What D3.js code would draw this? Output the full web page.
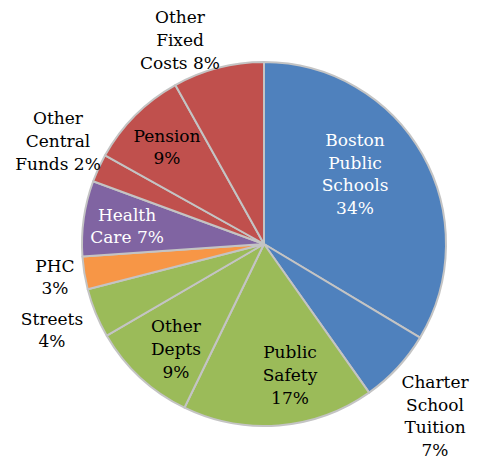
<!DOCTYPE html>
<html>
<head>
<meta charset="utf-8">
<script src="https://cdn.jsdelivr.net/npm/d3@7"></script>
<style>
  body { margin: 0; background: #fff; }
  text { font-family: "DejaVu Serif", serif; font-size: 17px; }
</style>
</head>
<body>
<div id="chart"></div>
<script>
// budget shares, clockwise from 12 o'clock
const categories = ["Boston Public Schools", "Charter School Tuition", "Public Safety", "Other Depts",
    "Streets", "PHC", "Health Care", "Other Central Funds", "Pension", "Other Fixed Costs"];
const shares = [33.6, 6.6, 17.0, 9.4, 4.4, 2.9, 6.7, 2.5, 8.8, 8.1];
const pctLabels = ["34%", "7%", "17%", "9%", "4%", "3%", "7%", "2%", "9%", "8%"];
const labelLines = [
    ["Boston", "Public", "Schools", "34%"],
    ["Charter", "School", "Tuition", "7%"],
    ["Public", "Safety", "17%"],
    ["Other", "Depts", "9%"],
    ["Streets", "4%"],
    ["PHC", "3%"],
    ["Health", "Care 7%"],
    ["Other", "Central", "Funds 2%"],
    ["Pension", "9%"],
    ["Other", "Fixed", "Costs 8%"]
];
const colors = ["#4F81BD", "#4F81BD", "#9BBB59", "#9BBB59", "#9BBB59", "#F79646",
    "#8064A2", "#C0504D", "#C0504D", "#C0504D"];
const textColors = ["#fff", "#000", "#000", "#000", "#000", "#000", "#fff", "#000", "#000", "#000"];

// label centres relative to pie centre (layout only)
const labelOffsets = [[91, -70], [171, 172], [26, 131], [-88, 105], [-212, 86], [-209, 33],
    [-137, -18], [-206, -103], [-97, -97], [-84, -204]];

const width = 478, height = 459;
const cx = 264, cy = 244, radius = 182;
const lineH = 22.7;

const svg = d3.select("#chart").append("svg")
    .attr("width", width)
    .attr("height", height);

const g = svg.append("g")
    .attr("transform", `translate(${cx}, ${cy})`);

const pie = d3.pie().sort(null).value(d => d);
const arc = d3.arc().innerRadius(0).outerRadius(radius);

const arcs = pie(shares);

g.selectAll(".slice")
    .data(arcs)
    .enter()
    .append("path")
    .attr("class", "slice")
    .attr("d", arc)
    .attr("fill", (d, i) => colors[i])
    .attr("stroke", "#c4c4c4")
    .attr("stroke-width", 2)
    .attr("stroke-linejoin", "round");

// labels
const labels = g.selectAll(".label")
    .data(arcs)
    .enter()
    .append("text")
    .attr("class", "label")
    .attr("text-anchor", "middle")
    .attr("fill", (d, i) => textColors[i])
    .attr("transform", (d, i) => `translate(${labelOffsets[i][0]}, ${labelOffsets[i][1]})`);

labels.each(function(d, i) {
    let lines = labelLines[i];
    let y0 = -(lines.length - 1) * lineH / 2;
    d3.select(this).selectAll("tspan")
        .data(lines)
        .enter()
        .append("tspan")
        .attr("x", 0)
        .attr("y", (l, j) => y0 + j * lineH)
        .attr("dy", "0.35em")
        .text(l => l);
});
</script>
</body>
</html>
